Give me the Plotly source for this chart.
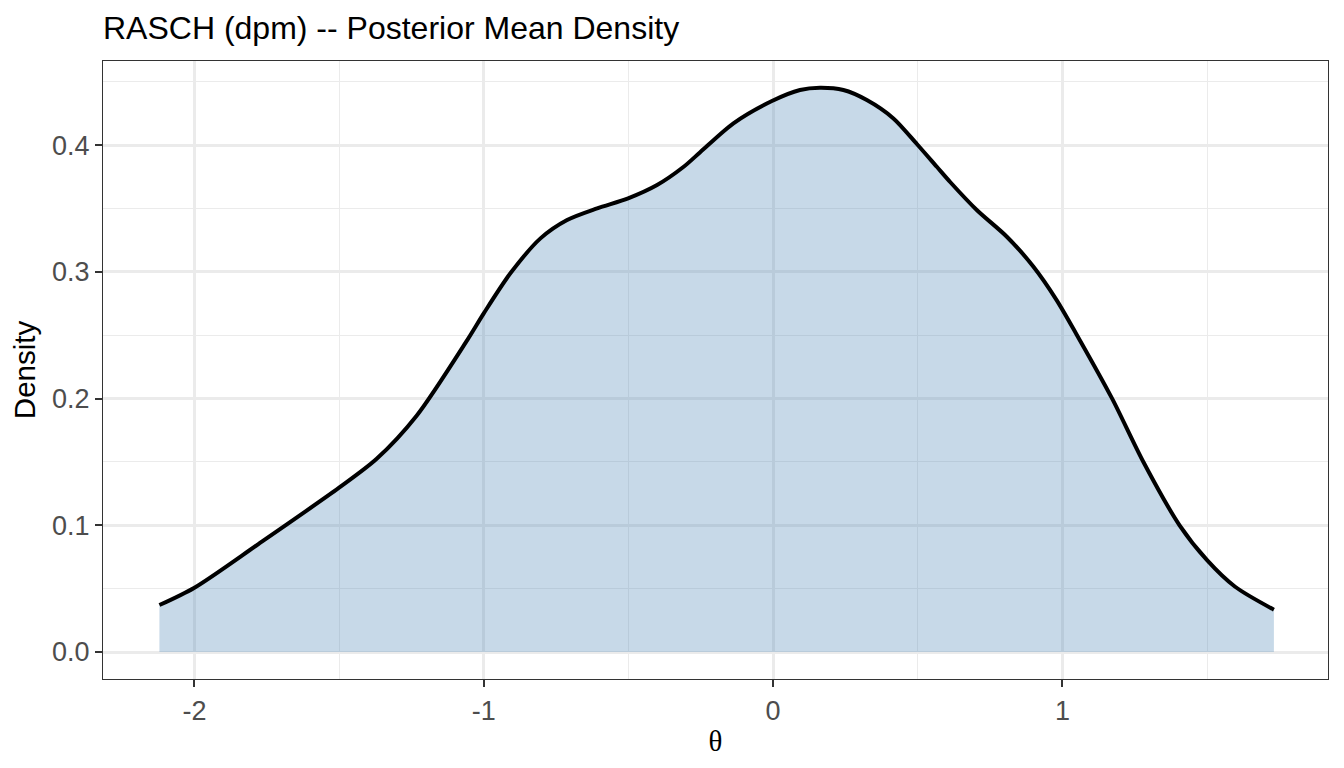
import plotly.graph_objects as go

theta = [-2.121, -2.0, -1.779, -1.5, -1.37, -1.232, -1.057, -1.0, -0.908, -0.804,
         -0.712, -0.608, -0.501, -0.401, -0.309, -0.252, -0.137, -0.004, 0.093, 0.162,
         0.243, 0.324, 0.416, 0.497, 0.566, 0.612, 0.704, 0.808, 0.9, 0.98,
         1.049, 1.172, 1.28, 1.405, 1.5, 1.597, 1.731]
density = [0.0371, 0.0508, 0.0852, 0.1297, 0.1525, 0.1865, 0.2462, 0.2673, 0.2989, 0.3265,
           0.341, 0.3502, 0.3581, 0.3686, 0.383, 0.3945, 0.4173, 0.4349, 0.4436, 0.4454,
           0.4436, 0.4357, 0.4212, 0.401, 0.383, 0.371, 0.3489, 0.3278, 0.3041, 0.2778,
           0.2507, 0.200, 0.150, 0.100, 0.0725, 0.0515, 0.0334]

x_ticks = [-2, -1, 0, 1]
x_tick_labels = ["-2", "-1", "0", "1"]
y_ticks = [0.0, 0.1, 0.2, 0.3, 0.4]
y_tick_labels = ["0.0", "0.1", "0.2", "0.3", "0.4"]

title_text = "RASCH (dpm) -- Posterior Mean Density"
x_title = "θ"
y_title = "Density"

# page body has an 8px margin; the figure is sized to compensate
W, H = 1336, 760
L, R, T, B = 95, 16, 53, 89

fig = go.Figure()
fig.add_trace(go.Scatter(
    x=theta, y=density, mode="lines", fill="tozeroy",
    fillcolor="rgba(70,130,180,0.3)",
    line=dict(width=0, shape="spline", smoothing=0.8, color="rgba(0,0,0,0)"),
    hoverinfo="skip", showlegend=False,
))
fig.add_trace(go.Scatter(
    x=theta, y=density, mode="lines",
    line=dict(width=4, color="black", shape="spline", smoothing=0.8),
    showlegend=False,
))

grid = "#EBEBEB"
axis_common = dict(
    showline=True, linecolor="#333333", linewidth=1.3, mirror=True,
    ticks="outside", ticklen=7, tickwidth=2, tickcolor="#333333",
    showgrid=True, gridcolor=grid, gridwidth=2.8,
    zeroline=False,
    tickfont=dict(family="Liberation Sans, Arial, sans-serif", size=27, color="#4D4D4D"),
)

fig.update_xaxes(
    **axis_common,
    range=[-2.316, 1.918],
    tickmode="array", tickvals=x_ticks, ticktext=x_tick_labels,
    minor=dict(dtick=0.5, tick0=-2.5, showgrid=True, gridcolor=grid, gridwidth=1.4, ticks=""),
    title=dict(text=x_title, font=dict(family="Liberation Serif, DejaVu Serif, serif", size=29, color="black"), standoff=6),
)
fig.update_yaxes(
    **axis_common,
    range=[-0.0213, 0.4665],
    tickmode="array", tickvals=y_ticks, ticktext=y_tick_labels,
    minor=dict(dtick=0.05, tick0=0.05, showgrid=True, gridcolor=grid, gridwidth=1.4, ticks=""),
    title=dict(text=y_title, font=dict(family="Liberation Sans, Arial, sans-serif", size=29.5, color="black"), standoff=8),
)

fig.update_layout(
    width=W, height=H,
    margin=dict(l=L, r=R, t=T, b=B),
    paper_bgcolor="white", plot_bgcolor="white",
    title=dict(text=title_text, x=L / W, xanchor="left", xref="container",
               y=1 - 20 / H, yanchor="middle", yref="container",
               font=dict(family="Liberation Sans, Arial, sans-serif", size=32, color="black")),
)

fig.write_html("out.html")
